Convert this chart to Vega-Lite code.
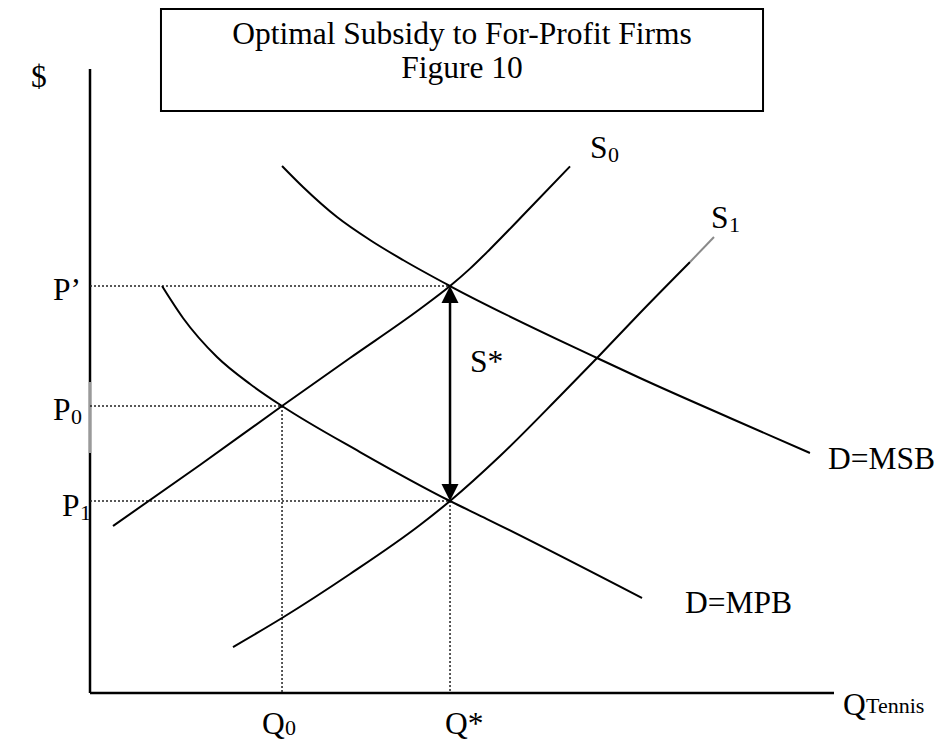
{
  "$schema": "https://vega.github.io/schema/vega-lite/v6.json",
  "width": 938,
  "height": 741,
  "autosize": {"type": "none"},
  "padding": 0,
  "background": "white",
  "config": {"view": {"stroke": null}},
  "encoding": {
    "x": {"field": "q", "type": "quantitative", "scale": {"domain": [-12.097, 113.978], "nice": false, "zero": false}, "axis": null},
    "y": {"field": "p", "type": "quantitative", "scale": {"domain": [-7.692, 111.058], "nice": false, "zero": false}, "axis": null}
  },
  "layer": [
    {
      "data": {"values": [{"q": 9.54, "p": 109.62, "q2": 90.46, "p2": 93.27}]},
      "mark": {"type": "rect", "fill": "white", "stroke": "black", "strokeWidth": 2},
      "encoding": {"x2": {"field": "q2"}, "y2": {"field": "p2"}}
    },
    {
      "data": {"values": [
        {"name": "price axis", "q": 0, "p": 0, "q2": 0, "p2": 100},
        {"name": "quantity axis", "q": 0, "p": 0, "q2": 100, "p2": 0}
      ]},
      "mark": {"type": "rule", "color": "black", "strokeWidth": 2.5},
      "encoding": {"x2": {"field": "q2"}, "y2": {"field": "p2"}}
    },
    {
      "data": {"values": [{"name": "price axis light part", "q": 0, "p": 49.84, "q2": 0, "p2": 38.46}]},
      "mark": {"type": "rule", "color": "#9a9a9a", "strokeWidth": 2.5},
      "encoding": {"x2": {"field": "q2"}, "y2": {"field": "p2"}}
    },
    {
      "data": {"values": [
        {"name": "P'", "q": 0, "p": 65.22, "q2": 48.39, "p2": 65.22},
        {"name": "P0", "q": 0, "p": 45.99, "q2": 25.81, "p2": 45.99},
        {"name": "P1", "q": 0, "p": 30.77, "q2": 48.39, "p2": 30.77},
        {"name": "Q0", "q": 25.81, "p": 45.99, "q2": 25.81, "p2": 0},
        {"name": "Q*", "q": 48.39, "p": 30.77, "q2": 48.39, "p2": 0}
      ]},
      "mark": {"type": "rule", "color": "#222222", "strokeWidth": 1.5, "strokeDash": [2, 2]},
      "encoding": {"x2": {"field": "q2"}, "y2": {"field": "p2"}}
    },
    {
      "data": {"values": [
        {"curve": "S0", "i": 0, "q": 3.09, "p": 26.76},
        {"curve": "S0", "i": 1, "q": 14.78, "p": 36.54},
        {"curve": "S0", "i": 2, "q": 25.81, "p": 45.99},
        {"curve": "S0", "i": 3, "q": 34.95, "p": 53.69},
        {"curve": "S0", "i": 4, "q": 44.35, "p": 61.54},
        {"curve": "S0", "i": 5, "q": 48.39, "p": 65.22},
        {"curve": "S0", "i": 6, "q": 51.08, "p": 68.01},
        {"curve": "S0", "i": 7, "q": 53.76, "p": 71.12},
        {"curve": "S0", "i": 8, "q": 59.14, "p": 77.72},
        {"curve": "S0", "i": 9, "q": 64.52, "p": 84.39},
        {"curve": "MSB", "i": 0, "q": 25.81, "p": 84.46},
        {"curve": "MSB", "i": 1, "q": 28.63, "p": 81.09},
        {"curve": "MSB", "i": 2, "q": 33.2, "p": 76.28},
        {"curve": "MSB", "i": 3, "q": 37.63, "p": 72.6},
        {"curve": "MSB", "i": 4, "q": 42.07, "p": 69.39},
        {"curve": "MSB", "i": 5, "q": 48.39, "p": 65.22},
        {"curve": "MSB", "i": 6, "q": 68.15, "p": 53.69},
        {"curve": "MSB", "i": 7, "q": 73.92, "p": 50.48},
        {"curve": "MSB", "i": 8, "q": 86.02, "p": 44.07},
        {"curve": "MSB", "i": 9, "q": 96.77, "p": 38.46},
        {"curve": "MPB", "i": 0, "q": 9.68, "p": 65.22},
        {"curve": "MPB", "i": 1, "q": 12.5, "p": 60.1},
        {"curve": "MPB", "i": 2, "q": 17.07, "p": 53.85},
        {"curve": "MPB", "i": 3, "q": 21.51, "p": 49.52},
        {"curve": "MPB", "i": 4, "q": 25.81, "p": 45.99},
        {"curve": "MPB", "i": 5, "q": 36.29, "p": 38.62},
        {"curve": "MPB", "i": 6, "q": 48.39, "p": 30.77},
        {"curve": "MPB", "i": 7, "q": 53.36, "p": 27.88},
        {"curve": "MPB", "i": 8, "q": 74.19, "p": 15.22},
        {"curve": "S1", "i": 0, "q": 19.22, "p": 7.37},
        {"curve": "S1", "i": 1, "q": 25.81, "p": 12.02},
        {"curve": "S1", "i": 2, "q": 34.95, "p": 19.07},
        {"curve": "S1", "i": 3, "q": 44.35, "p": 26.92},
        {"curve": "S1", "i": 4, "q": 48.39, "p": 30.77},
        {"curve": "S1", "i": 5, "q": 55.11, "p": 37.98},
        {"curve": "S1", "i": 6, "q": 63.17, "p": 47.6},
        {"curve": "S1", "i": 7, "q": 68.15, "p": 53.69},
        {"curve": "S1", "i": 8, "q": 73.92, "p": 60.9},
        {"curve": "S1", "i": 9, "q": 80.65, "p": 69.07}
      ]},
      "mark": {"type": "line", "color": "black", "strokeWidth": 2, "interpolate": "monotone"},
      "encoding": {"detail": {"field": "curve"}, "order": {"field": "i", "type": "quantitative"}}
    },
    {
      "data": {"values": [{"name": "S1 light end", "q": 80.65, "p": 69.07, "q2": 83.87, "p2": 73.08}]},
      "mark": {"type": "rule", "color": "#8a8a8a", "strokeWidth": 2},
      "encoding": {"x2": {"field": "q2"}, "y2": {"field": "p2"}}
    },
    {
      "data": {"values": [{"name": "S* arrow", "q": 48.39, "p": 63.86, "q2": 48.39, "p2": 32.13}]},
      "mark": {"type": "rule", "color": "black", "strokeWidth": 2.5},
      "encoding": {"x2": {"field": "q2"}, "y2": {"field": "p2"}}
    },
    {
      "data": {"values": [{"q": 48.39, "p": 63.86}]},
      "mark": {"type": "point", "shape": "M0,-1L1,1L-1,1Z", "size": 289, "filled": true, "color": "black", "opacity": 1},
      "encoding": {}
    },
    {
      "data": {"values": [{"q": 48.39, "p": 32.13}]},
      "mark": {"type": "point", "shape": "M0,1L1,-1L-1,-1Z", "size": 289, "filled": true, "color": "black", "opacity": 1},
      "encoding": {}
    },
    {
      "data": {"values": [
        {"label": ["Optimal Subsidy to For-Profit Firms", "Figure 10"], "q": 50.0, "p": 104.0}
      ]},
      "mark": {"type": "text", "font": "Liberation Serif", "fontSize": 31.5, "lineHeight": 34, "align": "center", "baseline": "alphabetic", "color": "black"},
      "encoding": {"text": {"field": "label"}}
    },
    {
      "data": {"values": [
        {"label": "$", "q": -7.93, "p": 98.56},
        {"label": "S", "q": 67.2, "p": 87.18},
        {"label": "S", "q": 83.47, "p": 75.96},
        {"label": "P’", "q": -4.97, "p": 64.42},
        {"label": "P", "q": -4.97, "p": 45.19},
        {"label": "P", "q": -3.76, "p": 29.81},
        {"label": "S*", "q": 51.08, "p": 52.88},
        {"label": "D=MSB", "q": 99.19, "p": 37.34},
        {"label": "D=MPB", "q": 79.97, "p": 14.26},
        {"label": "Q", "q": 101.21, "p": -2.08},
        {"label": "Q", "q": 23.12, "p": -5.13},
        {"label": "Q*", "q": 47.72, "p": -5.13}
      ]},
      "mark": {"type": "text", "font": "Liberation Serif", "fontSize": 31.5, "align": "left", "baseline": "middle", "color": "black"},
      "encoding": {"text": {"field": "label"}}
    },
    {
      "data": {"values": [
        {"label": "0", "q": 69.62, "p": 86.22},
        {"label": "1", "q": 85.89, "p": 75.0},
        {"label": "0", "q": -2.55, "p": 44.23},
        {"label": "1", "q": -1.34, "p": 28.85},
        {"label": "Tennis", "q": 104.3, "p": -2.08},
        {"label": "0", "q": 26.21, "p": -5.61}
      ]},
      "mark": {"type": "text", "font": "Liberation Serif", "fontSize": 22, "align": "left", "baseline": "middle", "color": "black"},
      "encoding": {"text": {"field": "label"}}
    }
  ]
}
